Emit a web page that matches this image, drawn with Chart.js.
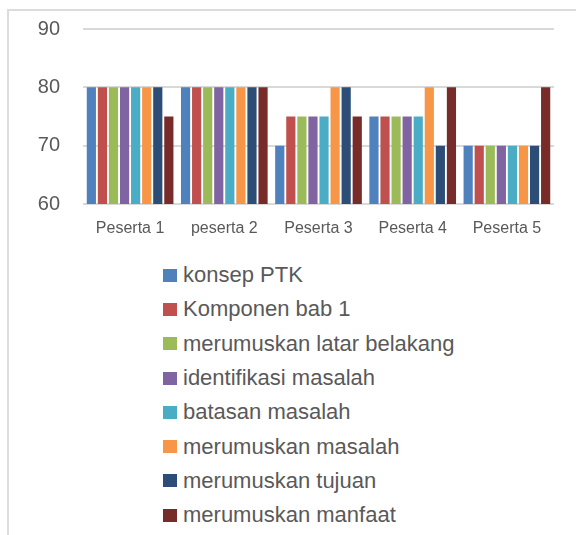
<!DOCTYPE html>
<html>
<head>
<meta charset="utf-8">
<script src="https://cdn.jsdelivr.net/npm/chart.js@4/dist/chart.umd.min.js"></script>
<style>
  body { margin: 0; background: #fff; font-family: "Liberation Sans", Arial, sans-serif; }
  #frame { position: absolute; left: 7px; top: 9px; width: 640px; height: 600px; border: 2px solid #dcdcdc; }
  #wrap { position: absolute; left: 0; top: 0; width: 576px; height: 245px; }
  #legend { position: absolute; left: 163px; top: 258px; margin: 0; padding: 0; list-style: none; }
  #legend li { height: 34.3px; display: flex; align-items: center; font-size: 22px; color: #595959; white-space: nowrap; }
  #legend li span { display: inline-block; width: 14px; height: 13px; margin-right: 6px; }
</style>
</head>
<body>
<div id="frame"></div>
<div id="wrap"><canvas id="barChart"></canvas></div>
<ul id="legend"></ul>

<script>
/* data
---------------------------- */
var peserta = ['Peserta 1', 'peserta 2', 'Peserta 3', 'Peserta 4', 'Peserta 5'];

var konsepPTK          = [80, 80, 70, 75, 70];
var komponenBab1       = [80, 80, 75, 75, 70];
var latarBelakang      = [80, 80, 75, 75, 70];
var identifikasi       = [80, 80, 75, 75, 70];
var batasanMasalah     = [80, 80, 75, 75, 70];
var merumuskanMasalah  = [80, 80, 80, 80, 70];
var merumuskanTujuan   = [80, 80, 80, 70, 70];
var merumuskanManfaat  = [75, 80, 75, 80, 80];

var yTicks = [60, 70, 80, 90];

var seriesNames = [
  'konsep PTK',
  'Komponen bab 1',
  'merumuskan latar belakang',
  'identifikasi masalah',
  'batasan masalah',
  'merumuskan masalah',
  'merumuskan tujuan',
  'merumuskan manfaat'
];
var seriesData = [konsepPTK, komponenBab1, latarBelakang, identifikasi,
                  batasanMasalah, merumuskanMasalah, merumuskanTujuan, merumuskanManfaat];
var colors = ['#4f81bd', '#c0504d', '#9bbb59', '#8064a2', '#4bacc6', '#f79646', '#2c4d75', '#772c2a'];

/* chart
---------------------------- */
var datasets = seriesNames.map(function (name, i) {
  return {
    label: name,
    data: seriesData[i],
    backgroundColor: colors[i],
    barPercentage: 0.83,
    categoryPercentage: 0.94
  };
});

var ctx = document.getElementById('barChart');
var chart = new Chart(ctx, {
  type: 'bar',
  data: { labels: peserta, datasets: datasets },
  options: {
    responsive: true,
    maintainAspectRatio: false,
    animation: false,
    layout: { padding: { left: 0, right: 22, top: 29, bottom: 0 } },
    plugins: {
      legend: { display: false },
      tooltip: { enabled: false }
    },
    scales: {
      x: {
        grid: { display: false },
        border: { display: false },
        ticks: {
          color: '#595959',
          padding: 7,
          font: { family: '"Liberation Sans", Arial, sans-serif', size: 16 }
        },
        afterFit: function (scale) { scale.height = 41; }
      },
      y: {
        min: 60,
        max: 90,
        afterBuildTicks: function (scale) {
          scale.ticks = yTicks.map(function (v) { return { value: v }; });
        },
        // invisible tick marks push the labels left without adding top padding
        grid: { color: '#d9d9d9', lineWidth: 2, drawTicks: true, tickLength: 20, tickColor: 'rgba(0,0,0,0)' },
        border: { display: false },
        ticks: {
          color: '#595959',
          padding: 3,
          font: { family: '"Liberation Sans", Arial, sans-serif', size: 20 }
        },
        afterFit: function (scale) { scale.width = 83; }
      }
    }
  }
});

/* legend (one item per line, below the chart)
---------------------------- */
var legend = document.getElementById('legend');
chart.data.datasets.forEach(function (ds) {
  var li = document.createElement('li');
  var box = document.createElement('span');
  box.style.background = ds.backgroundColor;
  li.appendChild(box);
  li.appendChild(document.createTextNode(ds.label));
  legend.appendChild(li);
});
</script>
</body>
</html>
